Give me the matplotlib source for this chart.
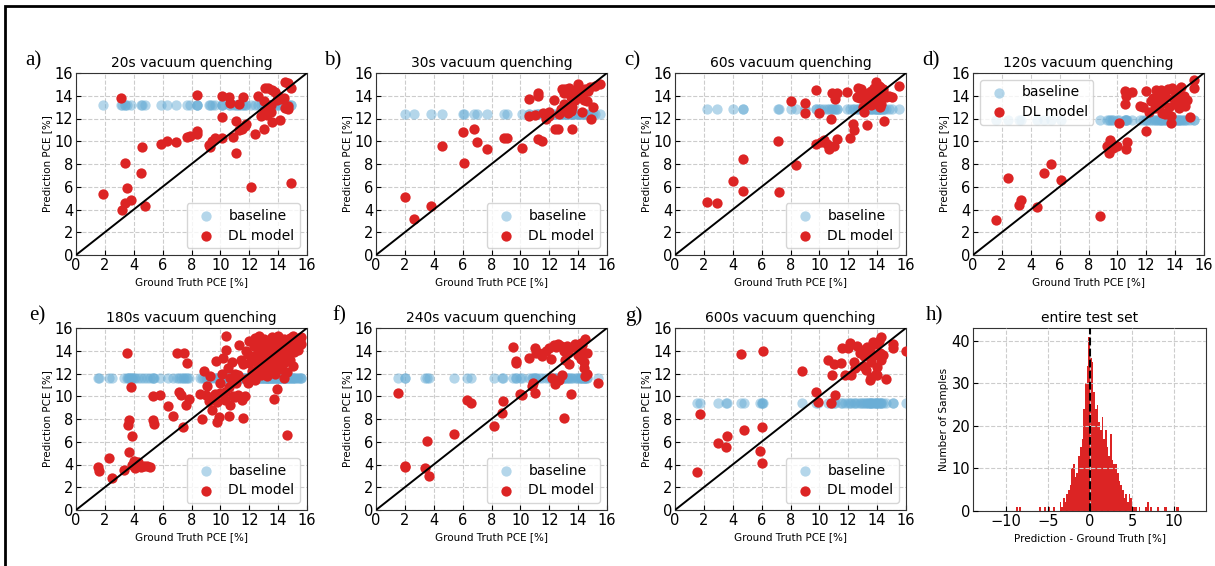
import matplotlib.pyplot as plt
import numpy as np
from matplotlib.patches import Rectangle

# ground truth / predicted PCE [%] per quenching time
gt_20s = [1.9, 3.1, 3.4, 3.5, 3.2, 3.4, 3.8, 4.5, 4.6, 4.8, 5.9, 6.3, 6.9, 7.7, 7.9, 8.4, 8.4, 8.4,
          9.2, 9.3, 9.4, 9.6, 10.1, 10.1, 10.1, 10.6, 10.7, 10.9, 11.1, 11.1, 11.3, 11.5, 11.7, 11.8,
          11.6, 11.3, 12.1, 12.4, 12.6, 12.8, 13.0, 13.0, 13.1, 13.2, 13.3, 13.3, 13.4, 13.5, 13.5,
          13.6, 13.6, 13.8, 13.9, 14.1, 14.3, 14.4, 14.5, 14.7, 14.5, 14.7, 14.7, 14.9, 14.9, 13.0, 14.0]
pred_20s = [5.4, 13.8, 8.1, 5.9, 4.0, 4.6, 4.8, 7.2, 9.5, 4.3, 9.8, 10.0, 9.9, 10.4, 10.5, 10.9, 10.6, 14.1,
            9.7, 9.5, 10.0, 10.3, 10.3, 12.1, 14.0, 13.9, 13.4, 10.4, 11.8, 9.0, 11.0, 11.1, 11.3, 11.5,
            13.9, 13.3, 6.0, 10.6, 14.0, 12.2, 11.1, 12.7, 14.7, 12.3, 14.7, 13.0, 12.8, 12.6, 13.2,
            14.5, 11.7, 14.3, 13.6, 11.9, 13.7, 13.8, 15.2, 15.1, 12.9, 12.8, 13.1, 14.7, 6.3, 13.5, 14.0]

gt_30s = [2.0, 2.6, 3.8, 4.6, 6.0, 6.1, 6.8, 7.0, 7.7, 8.9, 9.1, 10.1, 10.6, 10.6, 11.0, 11.2, 11.2,
          11.2, 11.5, 11.8, 12.0, 12.3, 12.4, 12.6, 12.7, 12.8, 12.9, 13.0, 13.1, 13.2, 13.3, 13.4,
          13.5, 13.6, 13.7, 13.8, 13.9, 14.0, 14.1, 14.2, 14.3, 14.4, 14.5, 14.6, 14.7, 14.9, 15.0,
          15.2, 12.9, 13.2, 13.5, 13.0, 14.0, 14.3, 12.0, 11.6, 13.6, 14.8, 15.5]
pred_30s = [5.1, 3.2, 4.3, 9.6, 10.8, 8.1, 11.1, 9.9, 9.3, 10.3, 10.3, 9.4, 13.7, 12.2, 12.3, 14.2, 14.0,
            10.2, 10.0, 12.0, 12.6, 13.6, 11.1, 11.1, 12.4, 12.8, 14.6, 14.2, 14.6, 13.0, 12.5, 14.7,
            13.9, 11.1, 14.2, 13.6, 14.5, 15.0, 13.9, 14.3, 12.6, 13.6, 14.6, 13.5, 14.4, 12.0, 13.0,
            14.9, 12.7, 14.5, 12.7, 13.3, 14.8, 14.1, 12.2, 12.5, 13.0, 14.8, 15.0]

gt_60s = [2.2, 2.9, 4.0, 4.7, 4.7, 7.1, 7.2, 8.0, 8.4, 9.0, 9.0, 9.8, 9.8, 10.0, 10.1, 10.3, 10.5,
          10.7, 10.8, 10.9, 11.0, 11.1, 11.2, 11.2, 11.9, 12.1, 12.3, 12.4, 12.6, 12.7, 12.9, 13.0,
          13.1, 13.2, 13.3, 13.4, 13.5, 13.6, 13.7, 13.8, 13.9, 14.0, 14.1, 14.2, 14.2, 14.3, 14.4,
          14.5, 14.6, 14.8, 15.0, 15.5, 13.6, 13.9, 14.0, 12.8, 13.3, 14.4, 14.1]
pred_60s = [4.7, 4.6, 6.5, 8.4, 5.6, 10.0, 5.5, 13.5, 7.9, 13.4, 12.5, 14.5, 9.8, 12.5, 9.9, 10.1, 9.8,
            9.3, 12.0, 14.2, 9.6, 13.7, 14.2, 10.2, 14.3, 10.3, 11.5, 11.0, 13.9, 14.7, 14.6, 13.0,
            12.6, 13.8, 11.4, 14.2, 13.5, 14.4, 13.9, 14.7, 15.2, 14.0, 13.6, 14.8, 13.0, 13.3, 14.3,
            11.8, 13.9, 14.0, 13.9, 14.9, 13.2, 14.2, 13.3, 13.8, 14.0, 14.6, 14.9]

gt_120s = [1.6, 2.4, 3.2, 3.3, 4.4, 4.9, 5.4, 6.1, 8.8, 9.3, 9.4, 9.5, 9.6, 9.7, 10.0, 10.1, 10.5,
           10.5, 10.6, 10.6, 10.7, 11.0, 11.6, 11.8, 12.0, 12.0, 12.2, 12.5, 12.6, 12.7, 12.8, 13.0,
           13.0, 13.1, 13.2, 13.3, 13.5, 13.6, 13.7, 13.7, 13.8, 13.9, 14.0, 14.1, 14.2, 14.3, 14.4,
           14.5, 14.6, 14.7, 14.8, 15.0, 15.3, 15.3, 12.9, 13.4, 14.0, 14.3, 12.3]
pred_120s = [3.1, 6.8, 4.4, 4.8, 4.2, 7.2, 8.0, 6.6, 3.4, 9.6, 9.0, 10.1, 9.8, 9.4, 9.6, 11.6, 14.4,
             13.3, 14.0, 9.3, 9.9, 14.3, 13.1, 13.0, 14.4, 10.9, 12.6, 13.8, 12.9, 14.5, 14.0, 14.5,
             13.3, 12.5, 13.9, 12.4, 14.6, 13.0, 11.6, 12.2, 14.7, 13.7, 13.3, 14.2, 13.7, 12.9, 14.8,
             13.5, 14.0, 13.1, 13.6, 12.1, 14.7, 15.4, 13.6, 13.9, 14.3, 13.9, 13.5]

gt_180s = [1.5, 1.6, 2.3, 2.5, 3.3, 3.5, 3.6, 3.7, 3.7, 3.8, 3.9, 3.9, 4.0, 4.1, 4.3, 4.5, 4.7, 4.9,
           5.1, 5.3, 5.4, 5.3, 5.8, 6.4, 6.7, 7.0, 7.1, 7.3, 7.4, 7.5, 7.6, 7.7, 7.8, 8.6, 8.7, 8.9,
           9.0, 9.2, 9.3, 9.4, 9.6, 9.7, 9.8, 9.9, 10.0, 10.1, 10.2, 10.3, 10.4, 10.4, 10.5, 10.6,
           10.6, 10.7, 10.8, 10.9, 11.0, 11.1, 11.2, 11.3, 11.4, 11.5, 11.6, 11.6, 11.7, 11.8, 11.9,
           12.0, 12.1, 12.2, 12.3, 12.4, 12.5, 12.6, 12.6, 12.7, 12.8, 12.8, 12.9, 13.0, 13.0, 13.1,
           13.2, 13.2, 13.3, 13.4, 13.4, 13.5, 13.6, 13.6, 13.7, 13.7, 13.8, 13.9, 13.9, 14.0, 14.0,
           14.1, 14.2, 14.2, 14.3, 14.4, 14.4, 14.5, 14.6, 14.6, 14.7, 14.8, 14.9, 15.0, 15.1, 15.2,
           15.3, 15.4, 15.5, 15.6, 15.6, 12.2, 12.9, 13.3, 13.5, 14.1, 14.3, 14.8, 12.0, 11.9, 12.4,
           13.1, 13.8, 14.5, 11.2, 10.3, 9.8, 9.1, 10.0, 11.0, 11.8, 10.7, 12.5, 13.6, 14.0, 15.0,
           12.7, 13.2]
pred_180s = [3.8, 3.4, 4.6, 2.8, 3.5, 13.8, 7.5, 7.9, 5.1, 10.8, 6.5, 4.0, 4.3, 3.7, 4.2, 3.8, 3.9, 3.9,
             3.8, 7.9, 7.6, 10.0, 10.1, 9.1, 8.3, 13.8, 10.4, 10.1, 7.3, 13.8, 9.2, 12.9, 9.8, 10.2,
             8.0, 12.2, 10.1, 9.6, 11.8, 8.8, 10.2, 13.1, 7.7, 8.2, 11.2, 12.0, 13.4, 9.7, 15.3, 14.1,
             12.5, 10.8, 8.3, 9.2, 13.0, 10.0, 12.0, 11.2, 10.1, 14.5, 13.2, 9.7, 8.1, 12.8, 10.0, 14.0,
             11.2, 14.9, 11.5, 12.2, 14.4, 15.1, 13.6, 12.7, 14.2, 15.3, 13.3, 11.9, 14.7, 12.5, 15.0,
             13.8, 14.4, 11.8, 13.1, 14.9, 12.2, 13.6, 15.2, 12.8, 14.1, 9.8, 13.4, 14.8, 10.6, 12.4,
             15.3, 13.9, 14.6, 12.9, 13.3, 15.0, 11.6, 14.2, 12.1, 6.6, 13.7, 15.1, 14.4, 12.7, 13.9,
             15.0, 14.5, 14.1, 14.9, 15.2, 14.6, 13.2, 13.2, 14.0, 12.4, 14.7, 12.4, 13.2, 12.9, 13.7,
             11.4, 12.0, 12.0, 13.0, 11.9, 10.4, 9.5, 10.9, 10.3, 9.9, 11.5, 11.6, 12.0, 14.6, 13.6,
             15.3, 14.0, 13.4]

gt_240s = [1.5, 2.0, 2.0, 3.4, 3.5, 3.7, 5.4, 6.3, 6.6, 8.2, 8.7, 8.8, 9.5, 9.7, 9.7, 10.0, 10.1,
           10.6, 10.8, 10.9, 11.0, 11.0, 11.1, 11.3, 11.5, 11.8, 12.0, 12.1, 12.2, 12.3, 12.4, 12.5,
           12.7, 12.8, 12.9, 13.0, 13.1, 13.2, 13.3, 13.4, 13.5, 13.6, 13.8, 13.9, 14.0, 14.1, 14.2,
           14.3, 14.4, 14.4, 14.5, 14.5, 14.6, 14.6, 15.4, 13.0, 12.6, 14.2]
pred_240s = [10.3, 3.9, 3.8, 3.7, 6.1, 3.0, 6.7, 9.7, 9.4, 7.4, 8.5, 9.6, 14.3, 13.1, 12.9, 10.2, 10.1,
             13.4, 10.9, 11.2, 14.2, 10.3, 13.8, 13.8, 13.5, 14.0, 14.2, 13.3, 11.6, 14.5, 11.1, 14.3,
             11.4, 14.4, 11.9, 8.1, 13.2, 14.4, 13.8, 12.8, 10.2, 14.3, 14.6, 14.4, 13.6, 14.1, 13.3,
             14.5, 12.5, 13.0, 11.8, 15.0, 13.8, 12.0, 11.2, 14.0, 14.6, 14.7]

gt_600s = [1.5, 1.7, 3.0, 3.5, 3.6, 4.6, 4.8, 5.9, 6.0, 6.0, 6.1, 8.8, 9.8, 9.9, 10.6, 10.8, 10.9,
           11.0, 11.1, 11.5, 11.6, 11.8, 12.0, 12.1, 12.2, 12.4, 12.5, 12.6, 12.8, 12.9, 13.0, 13.1,
           13.2, 13.3, 13.4, 13.5, 13.6, 13.7, 13.8, 13.9, 13.9, 14.0, 14.1, 14.2, 14.3, 14.3, 14.4,
           14.6, 15.1, 15.1, 16.0, 13.5, 14.0, 13.6]
pred_600s = [3.3, 8.4, 5.9, 5.5, 6.5, 13.7, 7.0, 5.2, 4.1, 7.3, 14.0, 12.2, 10.4, 9.5, 13.2, 9.4, 11.9,
             12.8, 10.1, 12.9, 14.2, 11.9, 14.2, 14.7, 11.9, 13.0, 12.5, 14.4, 13.8, 14.1, 12.7, 13.5,
             12.3, 14.3, 13.9, 11.4, 11.7, 14.8, 13.6, 12.0, 14.6, 11.9, 14.9, 13.8, 15.2, 13.2, 13.6,
             11.5, 14.6, 14.2, 14.0, 14.2, 12.6, 13.0]

panel_titles = ["20s vacuum quenching", "30s vacuum quenching", "60s vacuum quenching",
                "120s vacuum quenching", "180s vacuum quenching", "240s vacuum quenching",
                "600s vacuum quenching"]
baseline_pce = [13.2, 12.4, 12.8, 11.9, 11.6, 11.6, 9.4]
gt_sets = [gt_20s, gt_30s, gt_60s, gt_120s, gt_180s, gt_240s, gt_600s]
pred_sets = [pred_20s, pred_30s, pred_60s, pred_120s, pred_180s, pred_240s, pred_600s]
panel_letters = ["a)", "b)", "c)", "d)", "e)", "f)", "g)", "h)"]

# error histogram over the whole test set (bin width 0.2, first edge -9.0)
hist_start = -9.0
hist_width = 0.2
hist_counts = [0, 1, 0, 1, 0, 0, 0, 0, 0, 0, 0, 0, 0, 0, 0, 1, 0, 0, 1, 0,
               1, 0, 0, 1, 0, 0, 0, 2, 1, 3, 2, 4, 5, 6, 10, 11, 8, 9, 13, 15,
               17, 24, 30, 34, 41, 36, 35, 28, 24, 25, 21, 19, 22, 17, 19, 15, 13, 18, 12, 11,
               11, 9, 7, 6, 5, 3, 4, 2, 4, 3, 1, 1, 1, 0, 1, 0, 0, 0, 1, 2,
               0, 1, 0, 0, 0, 1, 0, 0, 0, 1, 1, 0, 0, 0, 0, 0, 1, 1, 0, 0]

RED = "#dc2424"
BLUE = "#6aaed6"

W, H = 1215, 566
fig = plt.figure(figsize=(W / 100, H / 100), dpi=100)


def px_axes(left, top, width, height):
    return fig.add_axes([left / W, 1 - (top + height) / H, width / W, height / H])


def style_axes(ax):
    ax.grid(True, linestyle="--", color="#cccccc", linewidth=0.8)
    ax.tick_params(direction="in", labelsize=10.5, length=3.5, pad=2)
    for sp in ax.spines.values():
        sp.set_color("#333333")


lefts = [76, 376, 675, 973]
tops = [73, 328]
label_pos = [(33, 61), (333, 61), (632, 61), (931, 61),
             (37, 316), (339, 316), (634, 316), (934, 316)]

for i in range(7):
    ax = px_axes(lefts[i % 4], tops[i // 4], 231, 182)
    style_axes(ax)
    gt = np.array(gt_sets[i])
    pred = np.array(pred_sets[i])
    ax.scatter(gt, np.full_like(gt, baseline_pce[i]), s=55, color=BLUE, alpha=0.5,
               linewidths=0, label="baseline", zorder=2)
    ax.scatter(gt, pred, s=55, color=RED, linewidths=0, label="DL model", zorder=3)
    ax.plot([0, 16], [0, 16], color="black", lw=1.4, zorder=4)
    ax.set_xlim(0, 16)
    ax.set_ylim(0, 16)
    ax.set_xticks(range(0, 17, 2))
    ax.set_yticks(range(0, 17, 2))
    ax.set_title(panel_titles[i], fontsize=10, pad=4)
    ax.set_xlabel("Ground Truth PCE [%]", fontsize=7.5, labelpad=3)
    ax.set_ylabel("Prediction PCE [%]", fontsize=7.5, labelpad=2)
    ax.legend(loc="upper left" if i == 3 else "lower right", fontsize=10,
              handletextpad=0.6, borderpad=0.4, labelspacing=0.4)

# histogram panel
ax = px_axes(lefts[3], tops[1], 233, 183)
style_axes(ax)
edges = hist_start + hist_width * np.arange(len(hist_counts) + 1)
ax.hist(edges[:-1], bins=edges, weights=hist_counts, color=RED, zorder=1)
ax.axvline(0, color="black", linestyle="--", lw=1.5, zorder=3)
ax.set_axisbelow(False)
ax.set_xlim(-13.9, 13.8)
ax.set_ylim(0, 43)
ax.set_xticks([-10, -5, 0, 5, 10])
ax.set_yticks([0, 10, 20, 30, 40])
ax.set_title("entire test set", fontsize=10, pad=4)
ax.set_xlabel("Prediction - Ground Truth [%]", fontsize=7.5, labelpad=3)
ax.set_ylabel("Number of Samples", fontsize=7.5, labelpad=2)

for lab, (x, y) in zip(panel_letters, label_pos):
    fig.text(x / W, 1 - y / H, lab, fontsize=15, family="Liberation Serif",
             ha="center", va="center")

# frame lines along the top and left edge
fig.add_artist(Rectangle((5 / W, -0.2), 1.2, 1 - 6 / H + 0.2, transform=fig.transFigure,
                         fill=False, edgecolor="black", linewidth=2))

fig.savefig("out.png", dpi=100)
